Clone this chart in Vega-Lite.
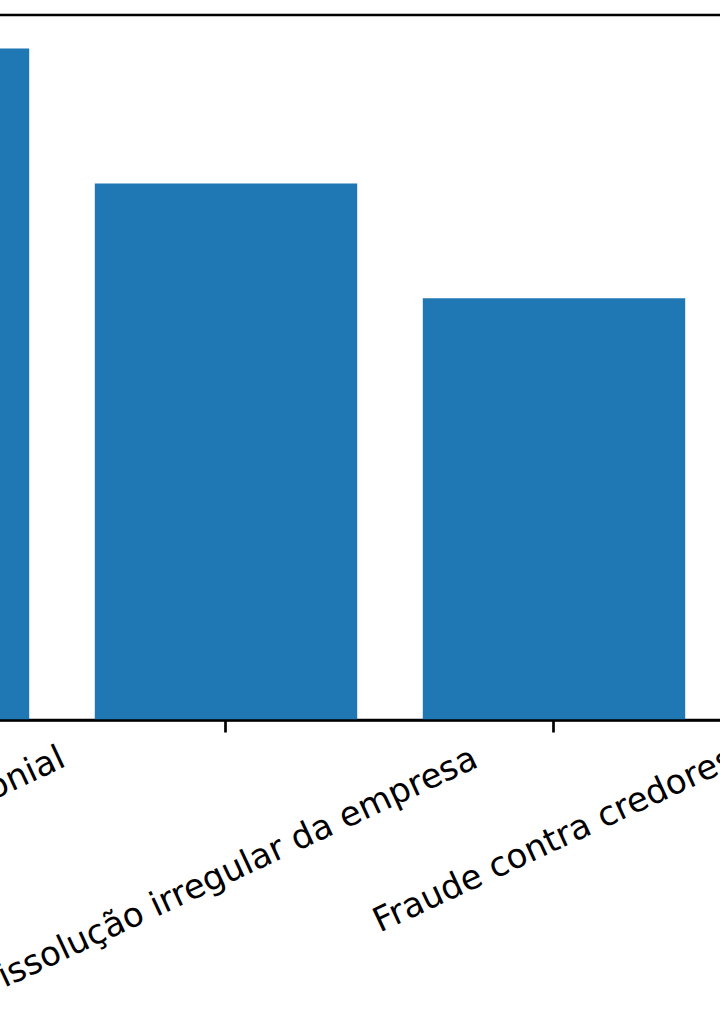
{
  "$schema": "https://vega.github.io/schema/vega-lite/v6.json",
  "width": 990,
  "height": 705,
  "autosize": {"type": "none"},
  "padding": {"left": -266, "top": 15, "right": -4, "bottom": 300},
  "background": "white",
  "data": {
    "values": [
      {"categoria": "Confusão patrimonial", "valor": 1000},
      {"categoria": "Dissolução irregular da empresa", "valor": 799},
      {"categoria": "Fraude contra credores", "valor": 628}
    ]
  },
  "mark": {"type": "bar", "color": "#1f77b4"},
  "encoding": {
    "x": {
      "field": "categoria",
      "type": "nominal",
      "sort": null,
      "scale": {"paddingInner": 0.2, "paddingOuter": 0.10915, "align": 0.4581},
      "axis": {
        "title": null,
        "zindex": 1,
        "labelAngle": -25,
        "labelAlign": "center",
        "labelBaseline": "middle",
        "labelFont": "DejaVu Sans",
        "labelFontSize": 34,
        "labelColor": "black",
        "labelLimit": 0,
        "labelOverlap": false,
        "labelBound": false,
        "labelFlush": false,
        "labelPadding": {
          "condition": [
            {"test": "length(datum.label) > 25", "value": 141},
            {"test": "length(datum.label) > 20", "value": 108}
          ],
          "value": 101
        },
        "tickSize": 12,
        "tickWidth": 2.7,
        "tickColor": "black",
        "domainColor": "black",
        "domainWidth": 2.7
      }
    },
    "y": {
      "field": "valor",
      "type": "quantitative",
      "scale": {"domain": [0, 1050]},
      "axis": null
    }
  },
  "config": {
    "view": {"stroke": "black", "strokeWidth": 2.7}
  }
}
